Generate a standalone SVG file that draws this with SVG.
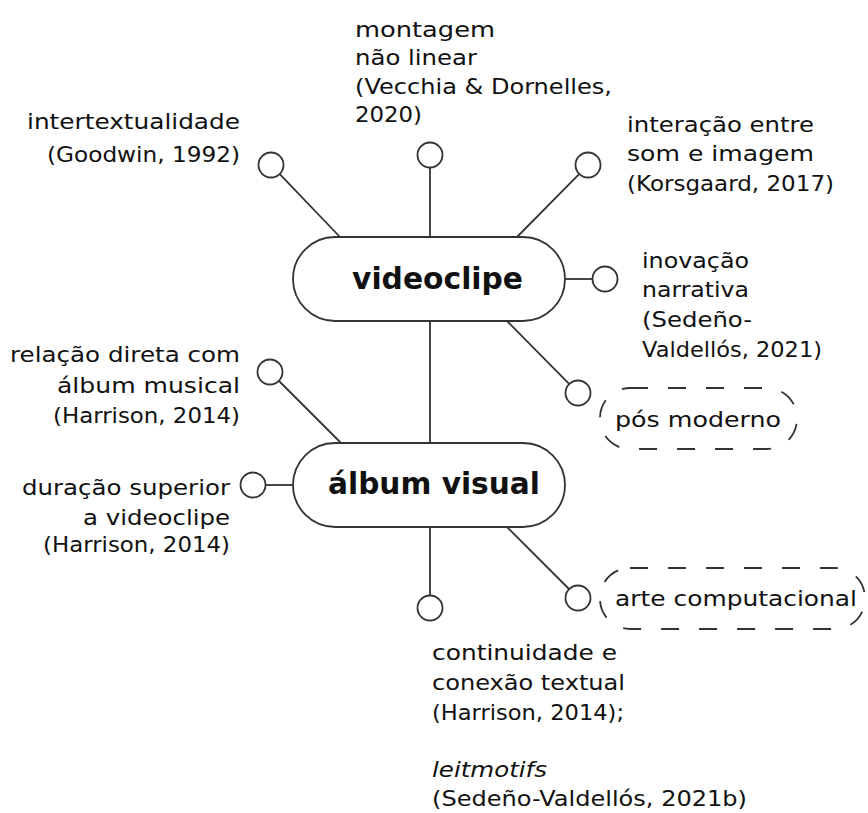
<svg xmlns="http://www.w3.org/2000/svg" width="868" height="813" viewBox="0 0 868 813">
<style>
.t{font-family:"DejaVu Sans","Liberation Sans",sans-serif;font-size:21px;fill:#111}
.e{text-anchor:end}
.m{text-anchor:middle}
.h{font-family:"DejaVu Sans","Liberation Sans",sans-serif;font-size:30px;font-weight:bold;fill:#111;text-anchor:middle}
.pill{fill:#fff;stroke:#333;stroke-width:1.8}
.dash{fill:none;stroke:#333;stroke-width:1.8;stroke-dasharray:18 20}
.dot{fill:#fff;stroke:#333;stroke-width:1.8}
.ln{stroke:#333;stroke-width:1.8;fill:none}
</style>
<rect width="868" height="813" fill="#fff"/>
<g id="connectors">
<line class="ln" x1="430" y1="167.5" x2="430" y2="237"/>
<line class="ln" x1="279.3" y1="173.7" x2="340" y2="237"/>
<line class="ln" x1="579.6" y1="173.6" x2="517" y2="237"/>
<line class="ln" x1="565" y1="279" x2="593" y2="279"/>
<line class="ln" x1="507" y1="321" x2="569.6" y2="384.4"/>
<line class="ln" x1="430" y1="321" x2="430" y2="443"/>
<line class="ln" x1="278.5" y1="380.5" x2="341" y2="443"/>
<line class="ln" x1="265.5" y1="485" x2="293" y2="485"/>
<line class="ln" x1="430" y1="527" x2="430" y2="595.5"/>
<line class="ln" x1="507" y1="527" x2="569.5" y2="589.5"/>
</g>
<g id="videoclipe">
<rect class="pill" x="293" y="237" width="272" height="84" rx="42"/>
<text class="h" x="437.5" y="289" textLength="171" lengthAdjust="spacingAndGlyphs">videoclipe</text>
</g>
<g id="album-visual">
<rect class="pill" x="293" y="443" width="272" height="84" rx="42"/>
<text class="h" x="434" y="494" textLength="212" lengthAdjust="spacingAndGlyphs">álbum visual</text>
</g>
<g id="montagem">
<circle class="dot" cx="430" cy="155" r="12.5"/>
<text class="t" x="355" y="36.5" textLength="140" lengthAdjust="spacingAndGlyphs">montagem</text>
<text class="t" x="355" y="65" textLength="122" lengthAdjust="spacingAndGlyphs">não linear</text>
<text class="t" x="355" y="93.5" textLength="257" lengthAdjust="spacingAndGlyphs">(Vecchia &amp; Dornelles,</text>
<text class="t" x="355" y="121.5" textLength="67" lengthAdjust="spacingAndGlyphs">2020)</text>
</g>
<g id="intertextualidade">
<circle class="dot" cx="271" cy="165" r="12.5"/>
<text class="t e" x="240" y="129" textLength="213" lengthAdjust="spacingAndGlyphs">intertextualidade</text>
<text class="t e" x="240" y="161.5" textLength="193" lengthAdjust="spacingAndGlyphs">(Goodwin, 1992)</text>
</g>
<g id="interacao">
<circle class="dot" cx="588" cy="165" r="12.5"/>
<text class="t" x="627" y="131.5" textLength="187" lengthAdjust="spacingAndGlyphs">interação entre</text>
<text class="t" x="627" y="160.5" textLength="187" lengthAdjust="spacingAndGlyphs">som e imagem</text>
<text class="t" x="627" y="190.5" textLength="207" lengthAdjust="spacingAndGlyphs">(Korsgaard, 2017)</text>
</g>
<g id="inovacao">
<circle class="dot" cx="605" cy="279" r="12.5"/>
<text class="t" x="642" y="268" textLength="107" lengthAdjust="spacingAndGlyphs">inovação</text>
<text class="t" x="642" y="297" textLength="107" lengthAdjust="spacingAndGlyphs">narrativa</text>
<text class="t" x="642" y="326.5" textLength="110" lengthAdjust="spacingAndGlyphs">(Sedeño-</text>
<text class="t" x="642" y="356.5" textLength="180" lengthAdjust="spacingAndGlyphs">Valdellós, 2021)</text>
</g>
<g id="pos-moderno">
<circle class="dot" cx="578" cy="393" r="12.5"/>
<rect class="dash" x="600" y="388" width="197" height="61" rx="30"/>
<text class="t m" x="698" y="427" textLength="166" lengthAdjust="spacingAndGlyphs">pós moderno</text>
</g>
<g id="relacao">
<circle class="dot" cx="270" cy="372" r="12.5"/>
<text class="t e" x="240" y="362" textLength="230" lengthAdjust="spacingAndGlyphs">relação direta com</text>
<text class="t e" x="240" y="393" textLength="183" lengthAdjust="spacingAndGlyphs">álbum musical</text>
<text class="t e" x="240" y="423" textLength="187" lengthAdjust="spacingAndGlyphs">(Harrison, 2014)</text>
</g>
<g id="duracao">
<circle class="dot" cx="253" cy="485" r="12.5"/>
<text class="t e" x="230" y="495" textLength="208" lengthAdjust="spacingAndGlyphs">duração superior</text>
<text class="t e" x="230" y="524.5" textLength="147" lengthAdjust="spacingAndGlyphs">a videoclipe</text>
<text class="t e" x="230" y="552" textLength="187" lengthAdjust="spacingAndGlyphs">(Harrison, 2014)</text>
</g>
<g id="arte-computacional">
<circle class="dot" cx="578" cy="598" r="12.5"/>
<rect class="dash" x="600" y="568" width="265" height="61" rx="30"/>
<text class="t m" x="736" y="605.5" textLength="242" lengthAdjust="spacingAndGlyphs">arte computacional</text>
</g>
<g id="continuidade">
<circle class="dot" cx="430" cy="608" r="12.5"/>
<text class="t" x="432" y="660" textLength="185" lengthAdjust="spacingAndGlyphs">continuidade e</text>
<text class="t" x="432" y="690" textLength="193" lengthAdjust="spacingAndGlyphs">conexão textual</text>
<text class="t" x="432" y="720" textLength="192" lengthAdjust="spacingAndGlyphs">(Harrison, 2014);</text>
<text class="t" x="432" y="776.5" font-style="italic" textLength="115" lengthAdjust="spacingAndGlyphs">leitmotifs</text>
<text class="t" x="432" y="806" textLength="315" lengthAdjust="spacingAndGlyphs">(Sedeño-Valdellós, 2021b)</text>
</g>
</svg>
